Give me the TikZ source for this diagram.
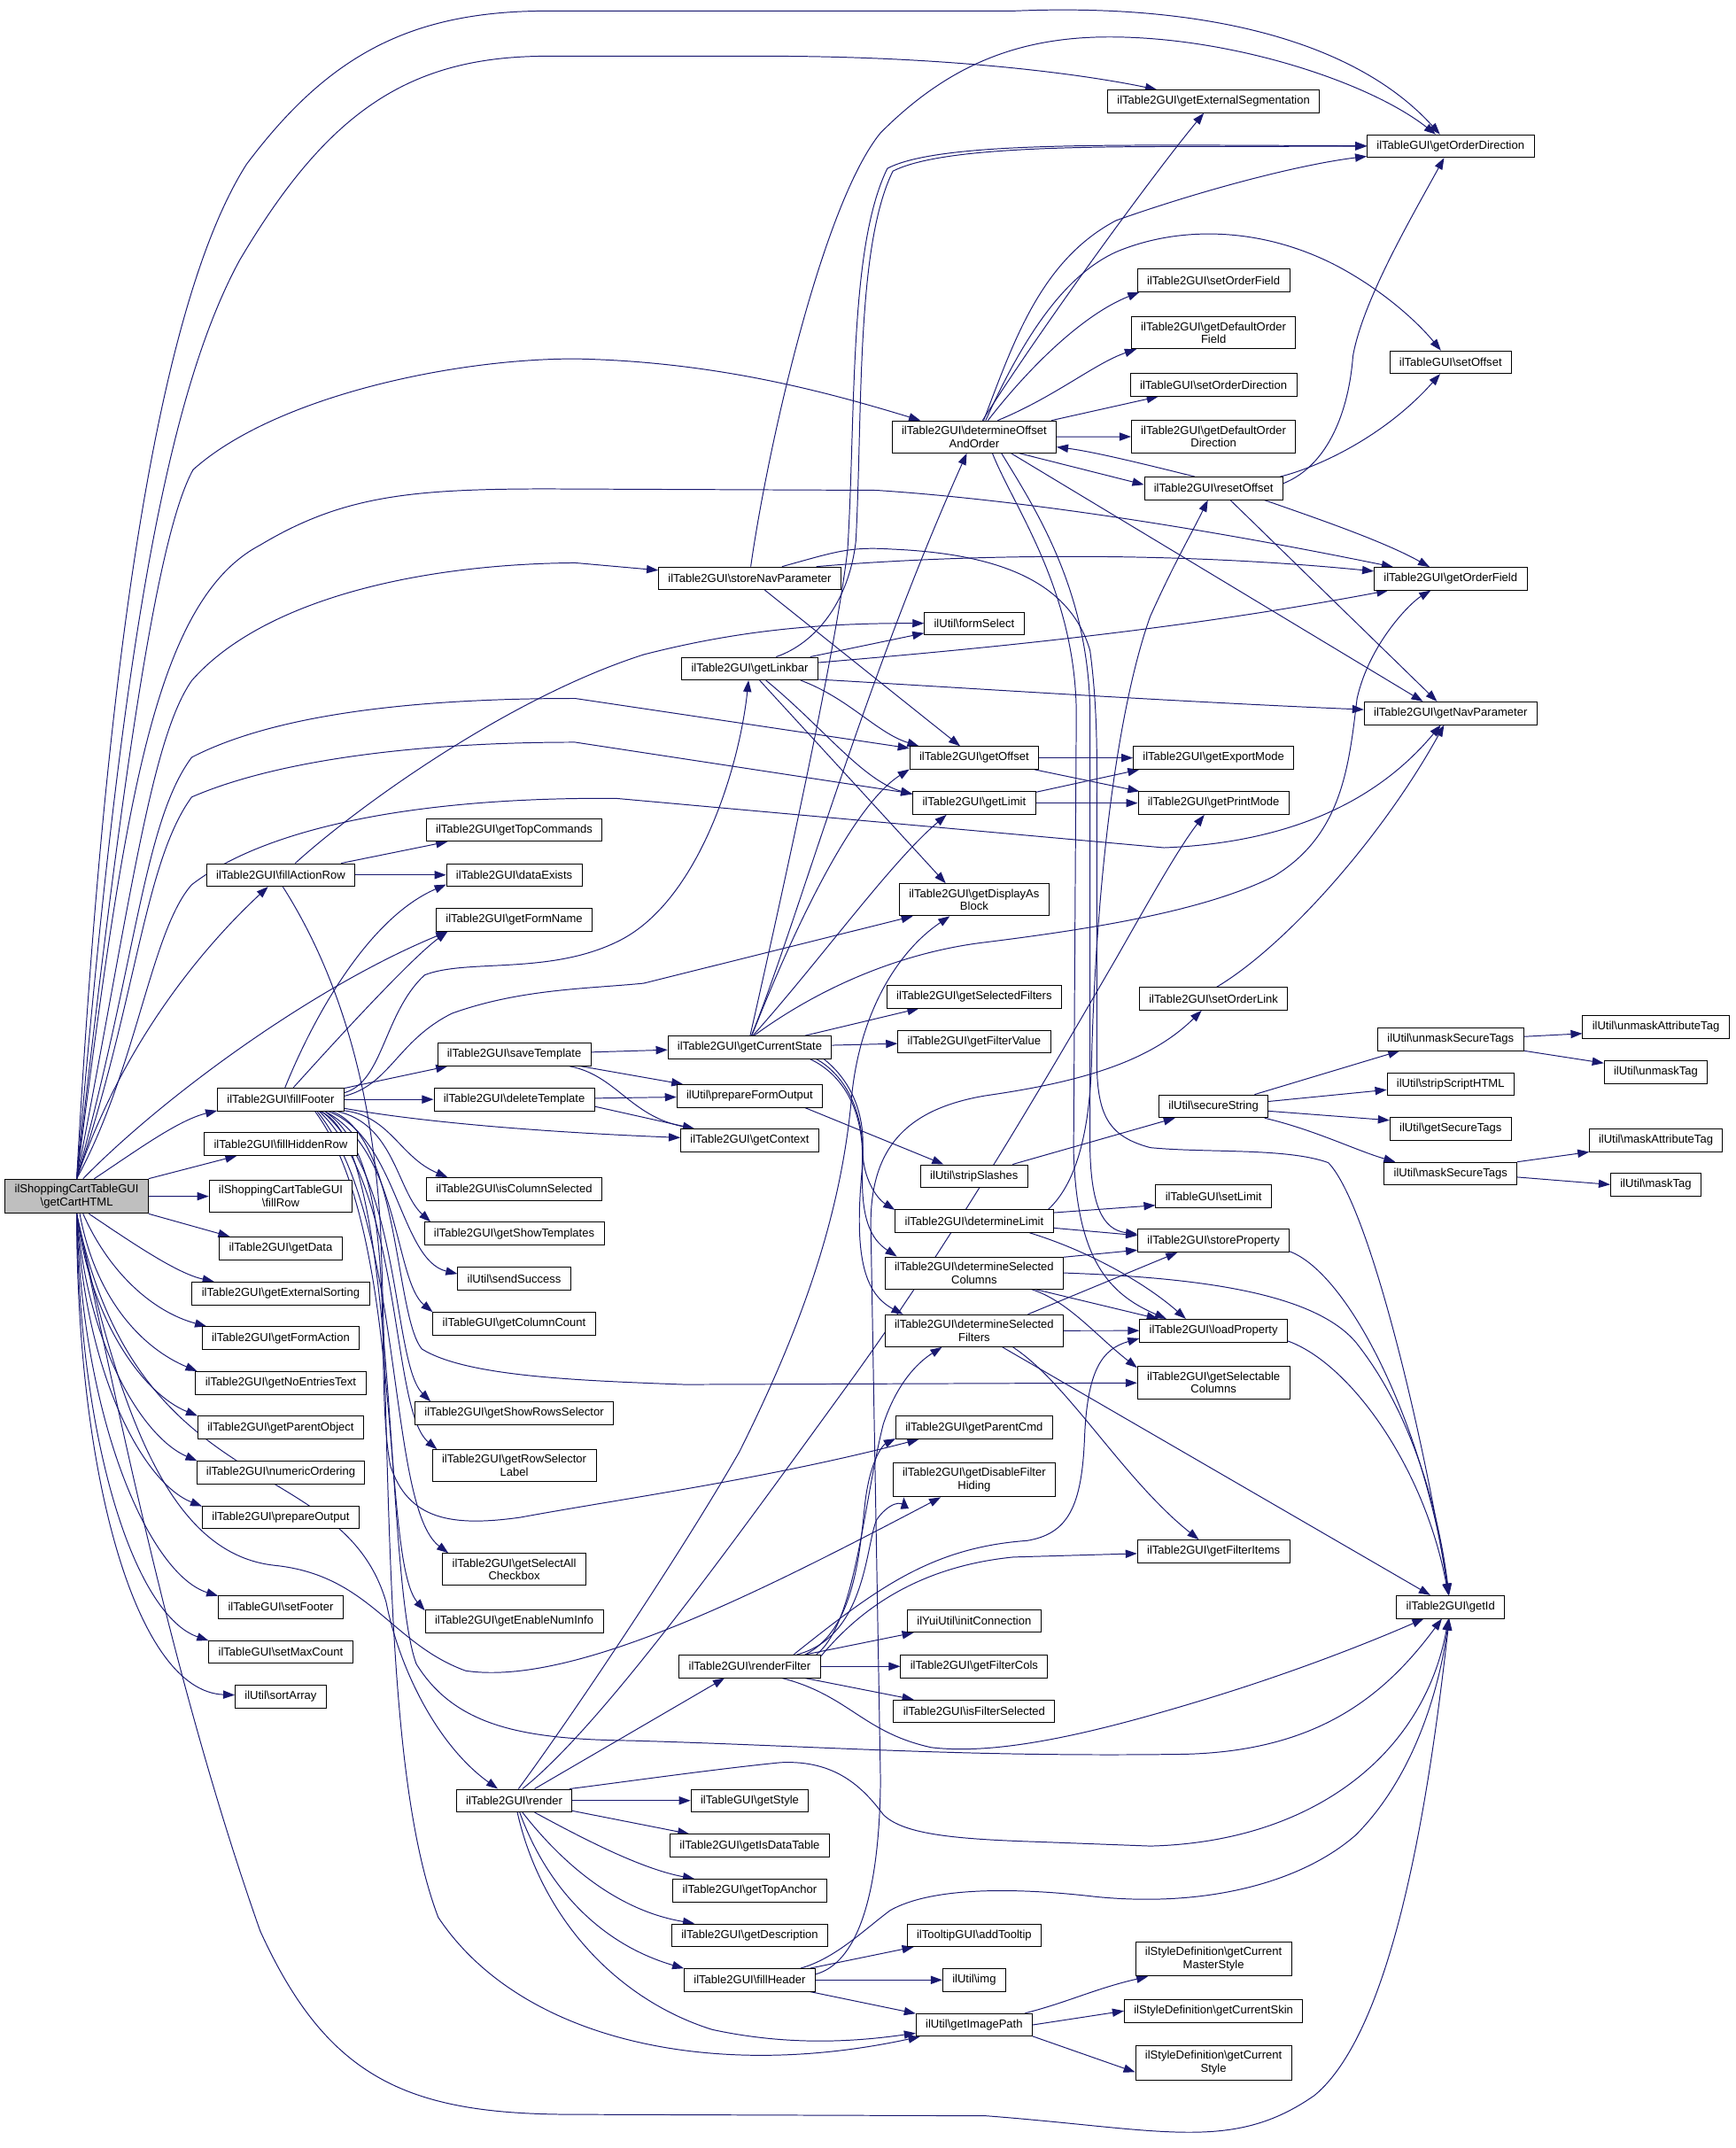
\documentclass[tikz,border=0pt]{standalone}
\usepackage{fontspec}
\setmainfont{Liberation Sans}
\usetikzlibrary{arrows.meta,backgrounds}
\definecolor{edgeblue}{HTML}{191970}
\definecolor{rootgray}{HTML}{BFBFBF}
\newcommand{\nsep}{\textbackslash}

\begin{document}
\begin{tikzpicture}[x=0.05cm, y=-0.05cm,
    fn/.style={draw=black, line width=0.8pt, fill=white, font=\fontsize{12}{13.5}\selectfont, inner xsep=10pt, inner ysep=5.5pt, minimum height=0.83cm, align=center},
    rootfn/.style={fn, fill=rootgray},
    call/.style={draw=edgeblue, line width=0.9pt, -{Triangle[length=12pt,width=8.5pt]}}]
    \useasboundingbox (0,0) rectangle (1267.1,1568.5);

    \node[rootfn] (cart) at (56,873.5) {ilShoppingCartTableGUI\\\nsep getCartHTML};

    \node[fn] (fillActionRow) at (205,638.9) {ilTable2GUI\nsep fillActionRow};
    \node[fn] (fillFooter) at (205,802.8) {ilTable2GUI\nsep fillFooter};
    \node[fn] (fillHiddenRow) at (205,835.4) {ilTable2GUI\nsep fillHiddenRow};
    \node[fn] (fillRow) at (205,873.6) {ilShoppingCartTableGUI\\\nsep fillRow};
    \node[fn] (getData) at (205,911.5) {ilTable2GUI\nsep getData};
    \node[fn] (getExtSorting) at (205,944.4) {ilTable2GUI\nsep getExternalSorting};
    \node[fn] (getFormAction) at (205,977.1) {ilTable2GUI\nsep getFormAction};
    \node[fn] (getNoEntries) at (205,1009.8) {ilTable2GUI\nsep getNoEntriesText};
    \node[fn] (getParentObject) at (205,1042.4) {ilTable2GUI\nsep getParentObject};
    \node[fn] (numericOrdering) at (205,1075.3) {ilTable2GUI\nsep numericOrdering};
    \node[fn] (prepareOutput) at (205,1108) {ilTable2GUI\nsep prepareOutput};
    \node[fn] (setFooter) at (205,1173.4) {ilTableGUI\nsep setFooter};
    \node[fn] (setMaxCount) at (205,1206.3) {ilTableGUI\nsep setMaxCount};
    \node[fn] (sortArray) at (205,1239) {ilUtil\nsep sortArray};

    \node[fn] (getTopCommands) at (375.5,606) {ilTable2GUI\nsep getTopCommands};
    \node[fn] (dataExists) at (375.5,638.9) {ilTable2GUI\nsep dataExists};
    \node[fn] (getFormName) at (375.5,671.7) {ilTable2GUI\nsep getFormName};
    \node[fn] (saveTemplate) at (375.5,770) {ilTable2GUI\nsep saveTemplate};
    \node[fn] (deleteTemplate) at (375.5,802.8) {ilTable2GUI\nsep deleteTemplate};
    \node[fn] (isColumnSelected) at (375.5,868.2) {ilTable2GUI\nsep isColumnSelected};
    \node[fn] (getShowTemplates) at (375.5,900.8) {ilTable2GUI\nsep getShowTemplates};
    \node[fn] (sendSuccess) at (375.5,933.8) {ilUtil\nsep sendSuccess};
    \node[fn] (getColumnCount) at (375.5,966.4) {ilTableGUI\nsep getColumnCount};
    \node[fn] (getShowRows) at (375.5,1032) {ilTable2GUI\nsep getShowRowsSelector};
    \node[fn] (getRowLabel) at (375.5,1070.2) {ilTable2GUI\nsep getRowSelector\\Label};
    \node[fn] (getSelectAll) at (375.5,1146) {ilTable2GUI\nsep getSelectAll\\Checkbox};
    \node[fn] (getEnableNumInfo) at (375.5,1184) {ilTable2GUI\nsep getEnableNumInfo};
    \node[fn] (render) at (375.5,1314.8) {ilTable2GUI\nsep render};

    \node[fn] (storeNav) at (547.5,422.3) {ilTable2GUI\nsep storeNavParameter};
    \node[fn] (getLinkbar) at (547.5,488.2) {ilTable2GUI\nsep getLinkbar};
    \node[fn] (getCurrentState) at (547.5,764.8) {ilTable2GUI\nsep getCurrentState};
    \node[fn] (prepareForm) at (547.5,800.3) {ilUtil\nsep prepareFormOutput};
    \node[fn] (getContext) at (547.5,832.8) {ilTable2GUI\nsep getContext};
    \node[fn] (renderFilter) at (547.5,1216.8) {ilTable2GUI\nsep renderFilter};
    \node[fn] (getStyle) at (547.5,1314.8) {ilTableGUI\nsep getStyle};
    \node[fn] (getIsDataTable) at (547.5,1347.7) {ilTable2GUI\nsep getIsDataTable};
    \node[fn] (getTopAnchor) at (547.5,1380.5) {ilTable2GUI\nsep getTopAnchor};
    \node[fn] (getDescription) at (547.5,1413.1) {ilTable2GUI\nsep getDescription};
    \node[fn] (fillHeader) at (547.5,1445.8) {ilTable2GUI\nsep fillHeader};

    \node[fn] (determineOrder) at (711.4,319) {ilTable2GUI\nsep determineOffset\\AndOrder};
    \node[fn] (formSelect) at (711.4,455.2) {ilUtil\nsep formSelect};
    \node[fn] (getOffset) at (711.4,553.4) {ilTable2GUI\nsep getOffset};
    \node[fn] (getLimit) at (711.4,586.4) {ilTable2GUI\nsep getLimit};
    \node[fn] (getDisplayAsBlock) at (711.4,657) {ilTable2GUI\nsep getDisplayAs\\Block};
    \node[fn] (getSelFilters) at (711.4,727.8) {ilTable2GUI\nsep getSelectedFilters};
    \node[fn] (getFilterValue) at (711.4,760.6) {ilTable2GUI\nsep getFilterValue};
    \node[fn] (stripSlashes) at (711.4,858.8) {ilUtil\nsep stripSlashes};
    \node[fn] (determineLimit) at (711.4,891.6) {ilTable2GUI\nsep determineLimit};
    \node[fn] (determineCols) at (711.4,929.5) {ilTable2GUI\nsep determineSelected\\Columns};
    \node[fn] (determineFilters) at (711.4,971.7) {ilTable2GUI\nsep determineSelected\\Filters};
    \node[fn] (getParentCmd) at (711.4,1042.4) {ilTable2GUI\nsep getParentCmd};
    \node[fn] (getDisableHiding) at (711.4,1080.5) {ilTable2GUI\nsep getDisableFilter\\Hiding};
    \node[fn] (initConnection) at (711.4,1183.6) {ilYuiUtil\nsep initConnection};
    \node[fn] (getFilterCols) at (711.4,1216.8) {ilTable2GUI\nsep getFilterCols};
    \node[fn] (isFilterSelected) at (711.4,1249.6) {ilTable2GUI\nsep isFilterSelected};
    \node[fn] (addTooltip) at (711.4,1413.1) {ilTooltipGUI\nsep addTooltip};
    \node[fn] (img) at (711.4,1445.8) {ilUtil\nsep img};
    \node[fn] (getImagePath) at (711.4,1478.6) {ilUtil\nsep getImagePath};

    \node[fn] (getExtSegmentation) at (886.2,74) {ilTable2GUI\nsep getExternalSegmentation};
    \node[fn] (setOrderField) at (886.2,204.8) {ilTable2GUI\nsep setOrderField};
    \node[fn] (getDefOrderField) at (886.2,243) {ilTable2GUI\nsep getDefaultOrder\\Field};
    \node[fn] (setOrderDir) at (886.2,281) {ilTableGUI\nsep setOrderDirection};
    \node[fn] (getDefOrderDir) at (886.2,318.8) {ilTable2GUI\nsep getDefaultOrder\\Direction};
    \node[fn] (resetOffset) at (886.2,356.6) {ilTable2GUI\nsep resetOffset};
    \node[fn] (getExportMode) at (886.2,553.4) {ilTable2GUI\nsep getExportMode};
    \node[fn] (getPrintMode) at (886.2,586.4) {ilTable2GUI\nsep getPrintMode};
    \node[fn] (setOrderLink) at (886.2,729.3) {ilTable2GUI\nsep setOrderLink};
    \node[fn] (secureString) at (886.2,807.8) {ilUtil\nsep secureString};
    \node[fn] (setLimit) at (886.2,873.4) {ilTableGUI\nsep setLimit};
    \node[fn] (storeProperty) at (886.2,906) {ilTable2GUI\nsep storeProperty};
    \node[fn] (loadProperty) at (886.2,971.6) {ilTable2GUI\nsep loadProperty};
    \node[fn] (getSelCols) at (886.2,1009.6) {ilTable2GUI\nsep getSelectable\\Columns};
    \node[fn] (getFilterItems) at (886.2,1132.8) {ilTable2GUI\nsep getFilterItems};
    \node[fn] (masterStyle) at (886.2,1430.4) {ilStyleDefinition\nsep getCurrent\\MasterStyle};
    \node[fn] (currentSkin) at (886.2,1468.4) {ilStyleDefinition\nsep getCurrentSkin};
    \node[fn] (currentStyle) at (886.2,1506.1) {ilStyleDefinition\nsep getCurrent\\Style};

    \node[fn] (getOrderDir) at (1059.3,106.7) {ilTableGUI\nsep getOrderDirection};
    \node[fn] (setOffset) at (1059.3,264.5) {ilTableGUI\nsep setOffset};
    \node[fn] (getOrderField) at (1059.3,422.6) {ilTable2GUI\nsep getOrderField};
    \node[fn] (getNavParam) at (1059.3,520.8) {ilTable2GUI\nsep getNavParameter};
    \node[fn] (unmaskSecure) at (1059.3,758.8) {ilUtil\nsep unmaskSecureTags};
    \node[fn] (stripScript) at (1059.3,791.7) {ilUtil\nsep stripScriptHTML};
    \node[fn] (getSecureTags) at (1059.3,824.3) {ilUtil\nsep getSecureTags};
    \node[fn] (maskSecure) at (1059.3,857) {ilUtil\nsep maskSecureTags};
    \node[fn] (getId) at (1059.3,1173.4) {ilTable2GUI\nsep getId};

    \node[fn] (unmaskAttr) at (1209.2,750) {ilUtil\nsep unmaskAttributeTag};
    \node[fn] (unmaskTag) at (1209.2,783) {ilUtil\nsep unmaskTag};
    \node[fn] (maskAttr) at (1209.2,832.6) {ilUtil\nsep maskAttributeTag};
    \node[fn] (maskTag) at (1209.2,865) {ilUtil\nsep maskTag};

    \begin{scope}[on background layer]
    % getCartHTML
    \draw[call] (cart.north) .. controls (75,520) and (110,230) .. (180,120) .. controls (240,40) and (300,8) .. (400,8) -- (740,8) .. controls (880,2) and (990,30) .. (getOrderDir);
    \draw[call] (cart.north) .. controls (85,520) and (115,300) .. (175,190) .. controls (240,80) and (300,41) .. (400,41) -- (560,41) .. controls (680,41) and (780,52) .. (getExtSegmentation);
    \draw[call] (cart.north) .. controls (90,560) and (115,390) .. (141,343) .. controls (200,290) and (330,262) .. (420,262) .. controls (520,264) and (600,285) .. (determineOrder);
    \draw[call] (cart.north) .. controls (90,600) and (110,440) .. (190,398) .. controls (250,362) and (300,357) .. (400,357) -- (640,358) .. controls (760,366) and (900,390) .. (getOrderField);
    \draw[call] (cart.north) .. controls (95,660) and (110,540) .. (140,497) .. controls (190,440) and (300,412) .. (420,411) -- (storeNav);
    \draw[call] (cart.north) .. controls (100,700) and (105,600) .. (140,553) .. controls (200,522) and (300,510) .. (420,510) -- (getOffset);
    \draw[call] (cart.north) .. controls (100,730) and (105,630) .. (140,582) .. controls (200,556) and (300,542) .. (420,542) -- (getLimit);
    \draw[call] (cart.north) .. controls (100,780) and (110,680) .. (140,646) .. controls (200,600) and (320,582) .. (450,583) -- (850,619) .. controls (950,615) and (1010,580) .. (getNavParam);
    \draw[call] (cart.north) .. controls (90,760) and (150,690) .. (fillActionRow);
    \draw[call] (cart.70) .. controls (120,800) and (230,720) .. (getFormName.190);
    \draw[call] (cart.45) .. controls (100,840) and (130,818) .. (fillFooter.190);
    \draw[call] (cart.north east) -- (fillHiddenRow.195);
    \draw[call] (cart) -- (fillRow);
    \draw[call] (cart.south east) -- (getData.167);
    \draw[call] (cart.-55) .. controls (100,910) and (130,930) .. (getExtSorting.170);
    \draw[call] (cart.-70) .. controls (80,930) and (112,958) .. (getFormAction.171);
    \draw[call] (cart.-80) .. controls (70,950) and (105,985) .. (getNoEntries.172);
    \draw[call] (cart.south) .. controls (66,965) and (105,1018) .. (getParentObject.172);
    \draw[call] (cart.south) .. controls (64,985) and (105,1050) .. (numericOrdering.172);
    \draw[call] (cart.south) .. controls (62,1005) and (105,1083) .. (prepareOutput.172);
    \draw[call] (cart.south) .. controls (60,1040) and (110,1150) .. (setFooter.170);
    \draw[call] (cart.south) .. controls (58,1060) and (100,1180) .. (setMaxCount.171);
    \draw[call] (cart.south) .. controls (56,1080) and (100,1235) .. (sortArray);
    \draw[call] (cart.south) .. controls (90,1050) and (130,1135) .. (200,1143) .. controls (270,1150) and (285,1200) .. (340,1220) .. controls (420,1232) and (560,1160) .. (getDisableHiding);
    \draw[call] (cart.south) .. controls (100,1100) and (250,1060) .. (282,1170) .. controls (292,1220) and (320,1275) .. (render);
    \draw[call] (cart.south) .. controls (90,1050) and (130,1240) .. (190,1410) .. controls (240,1520) and (300,1544) .. (420,1544) -- (720,1545) .. controls (850,1555) and (900,1572) .. (960,1530) .. controls (1020,1480) and (1045,1300) .. (getId);

    % fillActionRow
    \draw[call] (fillActionRow.11) -- (getTopCommands.190);
    \draw[call] (fillActionRow) -- (dataExists);
    \draw[call] (fillActionRow.39) .. controls (260,590) and (370,510) .. (470,478) .. controls (540,460) and (600,455) .. (formSelect);
    \draw[call] (fillActionRow.-80) .. controls (240,700) and (272,780) .. (278,900) .. controls (285,1100) and (282,1300) .. (320,1400) .. controls (380,1490) and (520,1520) .. (getImagePath);

    % fillFooter
    \draw[call] (fillFooter.70) .. controls (230,740) and (270,670) .. (dataExists.188);
    \draw[call] (fillFooter.43) .. controls (245,760) and (300,700) .. (getFormName.190);
    \draw[call] (fillFooter.6) .. controls (280,790) and (280,740) .. (310,712) .. controls (340,700) and (400,712) .. (450,688) .. controls (510,660) and (540,560) .. (getLinkbar);
    \draw[call] (fillFooter.3) .. controls (285,792) and (290,760) .. (330,740) .. controls (380,722) and (430,722) .. (470,718) -- (getDisplayAsBlock.195);
    \draw[call] (fillFooter.10) -- (saveTemplate.190);
    \draw[call] (fillFooter) -- (deleteTemplate);
    \draw[call] (fillFooter.-8) .. controls (300,818) and (380,826) .. (getContext);
    \draw[call] (fillFooter.-10) .. controls (285,815) and (292,845) .. (isColumnSelected.170);
    \draw[call] (fillFooter.-12) .. controls (288,820) and (290,870) .. (getShowTemplates.172);
    \draw[call] (fillFooter.-14) .. controls (290,830) and (292,920) .. (sendSuccess.175);
    \draw[call] (fillFooter.-15) .. controls (292,840) and (288,935) .. (getColumnCount.172);
    \draw[call] (fillFooter.-16) .. controls (294,860) and (286,995) .. (getShowRows.172);
    \draw[call] (fillFooter.-17) .. controls (295,870) and (285,1030) .. (getRowLabel.168);
    \draw[call] (fillFooter.-18) .. controls (296,890) and (282,1100) .. (getSelectAll.166);
    \draw[call] (fillFooter.-19) .. controls (296,900) and (278,1140) .. (getEnableNumInfo.173);
    \draw[call] (fillFooter.-13) .. controls (292,830) and (288,960) .. (308,985) .. controls (340,1005) and (420,1008) .. (500,1011) -- (getSelCols);
    \draw[call] (fillFooter.-15) .. controls (295,850) and (272,1000) .. (285,1070) .. controls (298,1110) and (330,1115) .. (380,1108) .. controls (450,1095) and (560,1080) .. (getParentCmd.192);
    \draw[call] (fillFooter.-17) .. controls (292,830) and (280,1150) .. (304,1215) .. controls (332,1260) and (380,1270) .. (460,1271) .. controls (600,1275) and (700,1283) .. (860,1281) .. controls (960,1280) and (1010,1240) .. (getId);

    % templates
    \draw[call] (saveTemplate) -- (getCurrentState);
    \draw[call] (saveTemplate.-10) -- (prepareForm.170);
    \draw[call] (saveTemplate.-12) .. controls (450,785) and (460,815) .. (getContext.168);
    \draw[call] (deleteTemplate) -- (prepareForm);
    \draw[call] (deleteTemplate.-5) -- (getContext.168);

    % storeNavParameter
    \draw[call] (storeNav.85) .. controls (560,330) and (600,150) .. (643,97) .. controls (690,50) and (740,27) .. (810,27) .. controls (900,27) and (1000,60) .. (getOrderDir);
    \draw[call] (storeNav.10) .. controls (700,405) and (850,402) .. (getOrderField);
    \draw[call] (storeNav.-38) -- (getOffset.140);
    \draw[call] (storeNav.20) .. controls (610,403) and (620,399) .. (651,401) .. controls (720,404) and (780,420) .. (796,475) .. controls (802,520) and (801,560) .. (801,600) -- (801,780) .. controls (802,815) and (810,830) .. (840,838) .. controls (880,842) and (940,838) .. (970,849) .. controls (1000,880) and (1040,1050) .. (getId);

    % getLinkbar
    \draw[call] (getLinkbar.11) -- (formSelect.191);
    \draw[call] (getLinkbar.24) .. controls (595,470) and (620,440) .. (625,395) .. controls (630,300) and (625,180) .. (652,125) .. controls (685,108) and (780,107) .. (873,107) -- (getOrderDir);
    \draw[call] (getLinkbar.5) .. controls (700,475) and (850,462) .. (getOrderField);
    \draw[call] (getLinkbar.-9) .. controls (700,502) and (850,512) .. (getNavParam);
    \draw[call] (getLinkbar.-13) .. controls (620,510) and (640,535) .. (getOffset.168);
    \draw[call] (getLinkbar.-36) .. controls (600,530) and (630,570) .. (getLimit.172);
    \draw[call] (getLinkbar.-50) -- (getDisplayAsBlock.150);

    % getCurrentState
    \draw[call] (getCurrentState.88) .. controls (565,680) and (610,480) .. (619,401) .. controls (625,300) and (620,180) .. (648,123) .. controls (680,106) and (780,106) .. (873,106) -- (getOrderDir);
    \draw[call] (getCurrentState.82) .. controls (580,680) and (630,500) .. (determineOrder);
    \draw[call] (getCurrentState.80) .. controls (575,690) and (620,590) .. (getOffset.190);
    \draw[call] (getCurrentState.75) .. controls (600,700) and (650,630) .. (getLimit.203);
    \draw[call] (getCurrentState.70) .. controls (600,720) and (660,695) .. (720,688) .. controls (800,678) and (880,665) .. (930,640) .. controls (980,610) and (985,560) .. (991,510) .. controls (1000,470) and (1030,440) .. (getOrderField);
    \draw[call] (getCurrentState.12) -- (getSelFilters.192);
    \draw[call] (getCurrentState) -- (getFilterValue);
    \draw[call] (getCurrentState.-9) .. controls (610,780) and (632,800) .. (630,840) .. controls (630,860) and (640,875) .. (determineLimit.172);
    \draw[call] (getCurrentState.-10) .. controls (612,782) and (632,805) .. (630,850) .. controls (628,890) and (636,905) .. (determineCols.168);
    \draw[call] (getCurrentState.-11) .. controls (614,784) and (634,810) .. (629,860) .. controls (624,920) and (632,945) .. (determineFilters.167);

    % determineOffsetAndOrder
    \draw[call] (determineOrder.63) .. controls (760,240) and (840,130) .. (getExtSegmentation);
    \draw[call] (determineOrder.60) .. controls (740,250) and (760,190) .. (815,161) .. controls (880,138) and (950,120) .. (getOrderDir);
    \draw[call] (determineOrder.55) .. controls (750,240) and (780,200) .. (815,184) .. controls (860,165) and (920,165) .. (976,194) .. controls (1010,212) and (1035,235) .. (setOffset);
    \draw[call] (determineOrder.50) .. controls (750,270) and (790,230) .. (setOrderField.189);
    \draw[call] (determineOrder.35) .. controls (770,290) and (800,265) .. (getDefOrderField.192);
    \draw[call] (determineOrder.12) -- (setOrderDir.192);
    \draw[call] (determineOrder) -- (getDefOrderDir);
    \draw[call] (determineOrder.-20) -- (resetOffset.177);
    \draw[call] (determineOrder.-24) -- (getNavParam.157);
    \draw[call] (determineOrder.-42) .. controls (740,370) and (785,430) .. (786,520) -- (784,840) .. controls (786,920) and (810,945) .. (loadProperty.166);
    \draw[call] (determineOrder.-31) .. controls (755,370) and (795,430) .. (796,520) -- (796,840) .. controls (797,880) and (805,898) .. (storeProperty.175);

    % resetOffset
    \draw[call] (resetOffset.148) .. controls (840,340) and (800,330) .. (determineOrder.-7);
    \draw[call] (resetOffset.4) .. controls (970,340) and (985,300) .. (988,260) .. controls (995,220) and (1030,160) .. (getOrderDir);
    \draw[call] (resetOffset.10) .. controls (960,342) and (1010,320) .. (setOffset);
    \draw[call] (resetOffset.-13) .. controls (960,378) and (1010,395) .. (getOrderField);
    \draw[call] (resetOffset.-35) -- (getNavParam.139);

    % determineLimit, determineSelected...
    \draw[call] (determineLimit.6) -- (setLimit.189);
    \draw[call] (determineLimit.-5) -- (storeProperty.176);
    \draw[call] (determineLimit.-12) .. controls (800,915) and (840,940) .. (loadProperty.157);
    \draw[call] (determineLimit.9) .. controls (785,865) and (795,830) .. (797,780) .. controls (800,650) and (815,520) .. (840,450) .. controls (858,410) and (870,390) .. (resetOffset);
    \draw[call] (determineCols.10) -- (storeProperty.187);
    \draw[call] (determineCols.-15) -- (loadProperty.168);
    \draw[call] (determineCols.-16) .. controls (780,950) and (800,975) .. (getSelCols.169);
    \draw[call] (determineCols.east) .. controls (880,933) and (960,945) .. (990,980) .. controls (1030,1030) and (1050,1100) .. (getId);
    \draw[call] (determineFilters.17) -- (storeProperty.198);
    \draw[call] (determineFilters) -- (loadProperty);
    \draw[call] (determineFilters.-23) .. controls (780,1010) and (820,1080) .. (getFilterItems);
    \draw[call] (determineFilters) -- (getId);
    \draw[call] (storeProperty.-8) .. controls (985,930) and (1040,1040) .. (getId);
    \draw[call] (loadProperty.-8) .. controls (985,995) and (1040,1070) .. (getId);

    % renderFilter
    \draw[call] (renderFilter.10) .. controls (625,1185) and (630,1100) .. (645,1040) .. controls (655,1010) and (670,995) .. (determineFilters.207);
    \draw[call] (renderFilter.12) .. controls (625,1190) and (628,1130) .. (632,1095) .. controls (636,1065) and (645,1055) .. (getParentCmd.188);
    \draw[call] (renderFilter.14) .. controls (632,1195) and (632,1130) .. (640,1110) .. controls (648,1098) and (660,1094) .. (getDisableHiding.194);
    \draw[call] (renderFilter.15) .. controls (640,1160) and (680,1130) .. (750,1125) .. controls (780,1120) and (790,1100) .. (792,1050) .. controls (794,1000) and (805,985) .. (loadProperty.186);
    \draw[call] (renderFilter.8) .. controls (620,1185) and (660,1145) .. (740,1137) -- (getFilterItems);
    \draw[call] (renderFilter.12) -- (initConnection.191);
    \draw[call] (renderFilter) -- (getFilterCols);
    \draw[call] (renderFilter.-12) -- (isFilterSelected.169);
    \draw[call] (renderFilter.-20) .. controls (620,1238) and (630,1265) .. (680,1276) .. controls (730,1282) and (800,1265) .. (873,1243) .. controls (950,1220) and (1010,1195) .. (getId);

    % render
    \draw[call] (render.30) -- (renderFilter.205);
    \draw[call] (render) -- (getStyle);
    \draw[call] (render.-10) -- (getIsDataTable.169);
    \draw[call] (render.-30) .. controls (430,1345) and (470,1365) .. (getTopAnchor.168);
    \draw[call] (render.-55) .. controls (410,1360) and (450,1395) .. (getDescription.168);
    \draw[call] (render.-65) .. controls (400,1380) and (440,1420) .. (fillHeader.170);
    \draw[call] (render.-75) .. controls (395,1400) and (450,1460) .. (520,1482) .. controls (580,1495) and (630,1490) .. (getImagePath.188);
    \draw[call] (render.70) .. controls (420,1250) and (500,1130) .. (540,1060) .. controls (590,960) and (615,880) .. (622,800) .. controls (628,740) and (655,695) .. (getDisplayAsBlock);
    \draw[call] (render.55) .. controls (440,1260) and (540,1120) .. (620,1010) .. controls (700,900) and (780,760) .. (815,700) .. controls (835,665) and (860,620) .. (getPrintMode);
    \draw[call] (render.12) .. controls (450,1302) and (520,1292) .. (570,1287) .. controls (610,1285) and (630,1305) .. (645,1325) .. controls (660,1340) and (700,1343) .. (760,1345) -- (840,1348) .. controls (960,1345) and (1040,1280) .. (getId);

    % fillHeader
    \draw[call] (fillHeader.11) -- (addTooltip.191);
    \draw[call] (fillHeader) -- (img);
    \draw[call] (fillHeader.-11) -- (getImagePath.169);
    \draw[call] (fillHeader.5) .. controls (620,1435) and (642,1400) .. (643,1300) -- (636,900) .. controls (634,840) and (660,810) .. (720,800) .. controls (790,790) and (840,775) .. (setOrderLink);
    \draw[call] (fillHeader.13) .. controls (610,1430) and (630,1410) .. (650,1395) .. controls (680,1378) and (740,1378) .. (800,1385) .. controls (880,1393) and (950,1375) .. (990,1340) .. controls (1030,1300) and (1050,1240) .. (getId);
    \draw[call] (getImagePath.13) .. controls (780,1462) and (800,1452) .. (masterStyle.195);
    \draw[call] (getImagePath.east) -- (currentSkin.west);
    \draw[call] (getImagePath.-11) -- (currentStyle.187);

    % offset, limit, utilities
    \draw[call] (getOffset) -- (getExportMode);
    \draw[call] (getOffset.-11) -- (getPrintMode.171);
    \draw[call] (getLimit.10) -- (getExportMode.189);
    \draw[call] (getLimit) -- (getPrintMode);
    \draw[call] (setOrderLink.75) .. controls (940,690) and (1010,610) .. (getNavParam);
    \draw[call] (prepareForm.-12) -- (stripSlashes.159);
    \draw[call] (stripSlashes.17) -- (secureString.197);
    \draw[call] (secureString.16) -- (unmaskSecure.193);
    \draw[call] (secureString.5) -- (stripScript.185);
    \draw[call] (secureString.-5) -- (getSecureTags.172);
    \draw[call] (secureString.-13) .. controls (960,825) and (990,840) .. (maskSecure.168);
    \draw[call] (unmaskSecure.2) -- (unmaskAttr.185);
    \draw[call] (unmaskSecure.-9) -- (unmaskTag.170);
    \draw[call] (maskSecure.10) -- (maskAttr.190);
    \draw[call] (maskSecure.-3) -- (maskTag.west);
    \end{scope}
\end{tikzpicture}
\end{document}
